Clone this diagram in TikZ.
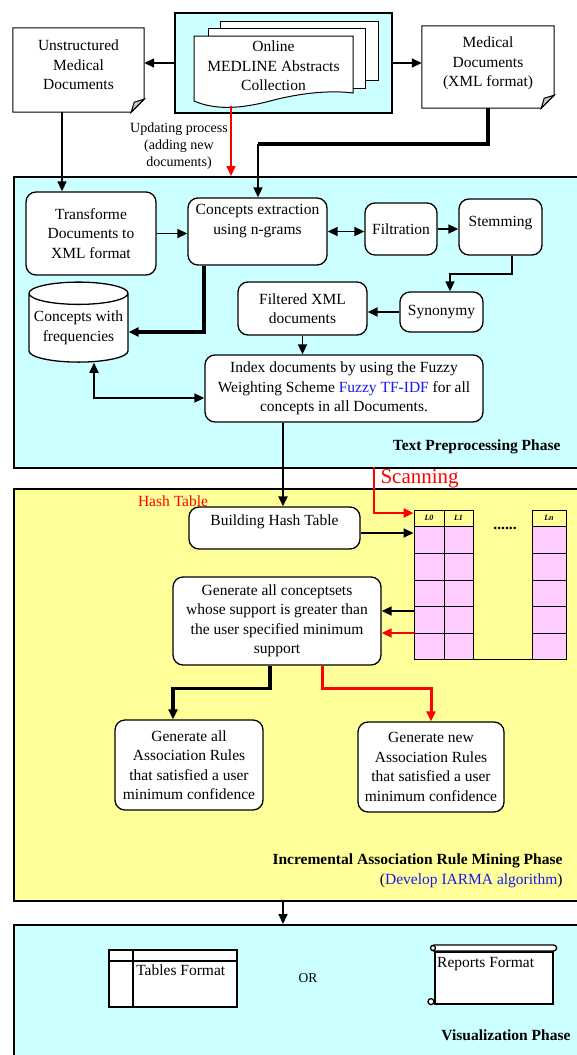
\documentclass[tikz,border=0pt]{standalone}
\usepackage{fontspec}
\setmainfont{Liberation Serif}
\usetikzlibrary{arrows.meta,positioning,shapes.geometric}

\definecolor{prepcyan}{RGB}{204,255,255}
\definecolor{mineyellow}{RGB}{255,255,153}
\definecolor{cellpink}{RGB}{255,204,255}
\definecolor{algoblue}{RGB}{25,25,235}

% outline of a sheet with a turned-down corner
\newcommand{\foldeddoc}[1]{%
  \draw[line width=1pt] (#1.north west) -- (#1.north east) -- ([yshift=13pt]#1.south east)
    -- ([xshift=-13pt]#1.south east) -- (#1.south west) -- cycle;
  \draw[line width=1pt,fill=gray!45] ([yshift=13pt]#1.south east) -- ([xshift=-13pt]#1.south east)
    -- ([shift={(-10pt,10pt)}]#1.south east) -- cycle;}

\begin{document}
\begin{tikzpicture}[
  x=1pt, y=-1pt,
  font=\fontsize{15.5}{19.5}\selectfont,
  >={Triangle[length=10pt,width=9pt]},
  rbox/.style={draw,fill=white,rounded corners=10pt,line width=1.3pt,align=center,inner sep=2pt},
  docbox/.style={fill=white,align=center,inner sep=2pt},
  phasebox/.style={draw,line width=1.8pt,inner sep=0pt,anchor=north west,minimum width=600},
  phaselbl/.style={font=\fontsize{15.5}{19.5}\selectfont\bfseries,anchor=base east},
  cyl/.style={cylinder,shape border rotate=90,aspect=0.25,draw,fill=white,line width=1.3pt,align=center,inner sep=0pt},
  hcell/.style={draw,line width=1pt,minimum height=16,inner sep=0pt,font=\fontsize{8}{9}\selectfont\bfseries\itshape},
  bcell/.style={draw,line width=1pt,fill=cellpink,minimum height=133,inner sep=0pt},
  cellline/.style={line width=1pt},
  arr/.style={->,line width=1.7pt},
  dbl/.style={<->,line width=1.7pt},
  fat/.style={line width=3.5pt},
  redarr/.style={->,red,line width=1.8pt},
  redfat/.style={->,red,line width=3pt}
]
\useasboundingbox (0,0) rectangle (577,1055);

% phases
\node[phasebox,fill=prepcyan,minimum height=291] (pre) at (13,176) {};
\node[phasebox,fill=mineyellow,minimum height=412] (inc) at (13,488) {};
\node[phasebox,fill=prepcyan,minimum height=160] (vis) at (13,924) {};

% sources
\node[draw,line width=1.8pt,fill=prepcyan,minimum width=217,minimum height=100] (src) at (283.5,63) {};
\filldraw[fill=white,line width=1pt] (220,28) -- (220,21) -- (378,21) -- (378,80) -- (365,80);
\filldraw[fill=white,line width=1pt] (208,36) -- (208,28) -- (365,28) -- (365,88) -- (353,88);
\filldraw[fill=white,line width=1pt] (194,101) -- (194,36) -- (353,36) -- (353,93)
  .. controls (330,90) and (300,93) .. (270,101) .. controls (240,109) and (215,110) .. (194,101) -- cycle;
\node[inner sep=0pt,align=center] (medl) at (273.5,66) {Online\\MEDLINE Abstracts\\Collection};

\node[docbox,minimum width=131,minimum height=84,text depth=10pt] (unstr) at (78.5,70) {Unstructured\\Medical\\Documents};
\foldeddoc{unstr}
\node[docbox,minimum width=132,minimum height=82,text depth=10pt] (xmld) at (488,67) {Medical\\Documents\\(XML format)};
\foldeddoc{xmld}
\draw[arr] (src.west) -- (src.west -| unstr.east);
\draw[arr] (src.east) -- (src.east -| xmld.west);

\coordinate (upd) at (231,106);
\node[font=\fontsize{14}{17}\selectfont,align=center] (updlbl) at (179,146) {Updating process\\(adding new\\documents)};

% Text preprocessing
\node[rbox,minimum width=130,minimum height=83] (trans) at (91,233.5) {Transforme\\Documents to\\XML format};
\node[rbox,minimum width=139,minimum height=67,text depth=24pt] (conc) at (257.5,231.5) {Concepts extraction\\using n-grams};
\node[rbox,minimum width=72,minimum height=52] (filt) at (401,229) {Filtration};
\node[rbox,minimum width=83,minimum height=56,text depth=11pt] (stem) at (500.5,227) {Stemming};
\node[rbox,minimum width=83,minimum height=40] (syn) at (441.5,312) {Synonymy};
\node[rbox,minimum width=129,minimum height=53] (filx) at (302.5,308.5) {Filtered XML\\documents};
\node[rbox,minimum width=278,minimum height=67] (idx) at (344,388.5)
  {Index documents by using the Fuzzy\\Weighting Scheme \textcolor{algoblue}{Fuzzy TF-IDF} for all\\concepts in all Documents.};
\node[cyl,minimum width=99,minimum height=80] (cyl) at (78.5,328) {Concepts with\\frequencies};
\node[phaselbl] (prelbl) at (564,450) {Text Preprocessing Phase};

\draw[arr] ([xshift=-16.5pt]unstr.south) -- ([xshift=-16.5pt]unstr.south |- trans.north);
\coordinate (xj) at (258,144);
\draw[fat] (xmld.south) |- (xj);
\draw[arr] (xj) -- (xj |- conc.north);
\draw[redarr] (upd) -- (upd |- pre.north);
\draw[arr] (trans.east) -- (trans.east -| conc.west);
\draw[dbl] (conc.east) -- (conc.east -| filt.west);
\draw[arr] (filt.east) -- (filt.east -| stem.west);
\draw[arr] ([xshift=11.5pt]stem.south) -- ++(0,18) -| ([xshift=8.5pt]syn.north);
\draw[arr] (syn.west) -- (syn.west -| filx.east);
\draw[arr] (filx.south) -- (filx.south |- idx.north);
\draw[fat,->] ([xshift=-53.5pt]conc.south) |- ([yshift=-4pt]cyl.east);
\draw[dbl] ([xshift=15.5pt]cyl.south) |- ([yshift=-9.5pt]idx.west);

% Incremental mining
\node[red] (hashlbl) at (173,501) {Hash Table};
\node[red,font=\fontsize{21}{24}\selectfont,anchor=west] (scanlbl) at (377,479) {Scanning};
\node[rbox,minimum width=171,minimum height=42,text depth=15pt] (build) at (274.5,528) {Building Hash Table};
\node[hcell,minimum width=30] (L0) at (429,518) {L0};
\node[hcell,minimum width=29] (L1) at (458.5,518) {L1};
\node[hcell,minimum width=34] (Ln) at (549,518) {Ln};
\node[bcell,minimum width=30] (col0) at (429,592.5) {};
\node[bcell,minimum width=29] (col1) at (458.5,592.5) {};
\node[bcell,minimum width=34] (coln) at (549,592.5) {};
\foreach \r in {553,580,606,633} {
  \draw[cellline] (col0.west |- 0,\r) -- (col1.east |- 0,\r);
  \draw[cellline] (coln.west |- 0,\r) -- (coln.east |- 0,\r);
}
\draw[cellline] (col0.south west) -- (coln.south east);
\node (dots) at (505,528) {\textbf{......}};
\node[rbox,minimum width=208,minimum height=88] (gen) at (277,621)
  {Generate all conceptsets\\whose support is greater than\\the user specified minimum\\support};
\node[rbox,minimum width=148,minimum height=90] (genall) at (189,765)
  {Generate all\\Association Rules\\that satisfied a user\\minimum confidence};
\node[rbox,minimum width=146,minimum height=90] (gennew) at (431,767)
  {Generate new\\Association Rules\\that satisfied a user\\minimum confidence};
\node[phaselbl] (inclbl) at (566,864) {Incremental Association Rule Mining Phase};
\node[anchor=base east] (algolbl) at (566,884) {(\textcolor{algoblue}{Develop IARMA algorithm})};

\coordinate (xdown) at (283,0);
\coordinate (scan) at (374,467);
\draw[arr,line width=2.2pt] (idx.south -| xdown) -- (build.north -| xdown);
\draw[redarr,line width=2.6pt] (scan) |- ([yshift=5pt]L0.west);
\draw[arr] ([yshift=-5pt]build.east) -- ([yshift=-5pt]build.east -| col0.west);
\draw[arr] ([yshift=10pt]gen.east -| col0.west) -- ([yshift=10pt]gen.east);
\draw[redarr] ([yshift=-12pt]gen.east -| col0.west) -- ([yshift=-12pt]gen.east);
\draw[fat,->] ([xshift=-7pt]gen.south) -- ++(0,23) -| ([xshift=-16pt]genall.north);
\draw[redfat] ([xshift=45pt]gen.south) -- ++(0,23) -| (gennew.north);

% Visualization
\draw[arr] (inc.south -| xdown) -- (vis.north -| xdown);
\node[draw,line width=1.8pt,fill=white,minimum width=128,minimum height=57] (tabf) at (173,978.5) {};
\draw[line width=1.6pt] ([xshift=25pt]tabf.north west) -- ([xshift=25pt]tabf.south west);
\draw[line width=1.6pt] ([yshift=-12pt]tabf.north west) -- ([yshift=-12pt]tabf.north east);
\node[anchor=north west,inner sep=3pt] (tabtxt) at ([shift={(25pt,-12pt)}]tabf.north west) {Tables Format};
\node[font=\fontsize{13.5}{16}\selectfont] (or) at (308,978) {OR};
\node[draw,line width=1.6pt,fill=white,minimum width=118,minimum height=52,anchor=north west] (repf) at (434,951) {};
\draw[line width=1.3pt,fill=white,rounded corners=3pt] ([shift={(-3pt,6pt)}]repf.north west) rectangle ([shift={(3pt,0pt)}]repf.north east);
\draw[line width=1.3pt,fill=white] ([shift={(-1pt,3pt)}]repf.north west) circle (2.5pt);
\draw[line width=1.3pt,fill=white] ([shift={(-3pt,3pt)}]repf.south west) circle (3pt);
\node[anchor=north west,inner sep=3pt] (reptxt) at ([yshift=-3pt]repf.north west) {Reports Format};
\node[phaselbl] (vislbl) at (574,1040) {Visualization Phase};
\end{tikzpicture}
\end{document}
